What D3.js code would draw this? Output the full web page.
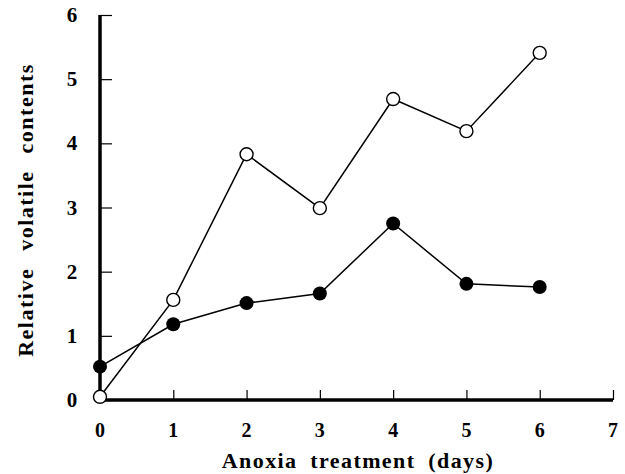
<!DOCTYPE html>
<html>
<head>
<meta charset="utf-8">
<script src="https://cdn.jsdelivr.net/npm/d3@7"></script>
<style>
  body { margin: 0; background: #fff; }
  svg text { font-family: "Liberation Serif", "Times New Roman", serif; font-weight: bold; }
</style>
</head>
<body>
<script>
// days of anoxia
var days = [0, 1, 2, 3, 4, 5, 6];
// open circles
var openVals = [0.05, 1.56, 3.83, 2.99, 4.69, 4.19, 5.41];
// filled circles
var filledVals = [0.52, 1.18, 1.51, 1.66, 2.75, 1.81, 1.76];
var xTicks = [0, 1, 2, 3, 4, 5, 6, 7];
var yTicks = [0, 1, 2, 3, 4, 5, 6];

var W = 625, H = 474;
var m = {left: 100, right: 12, top: 15, bottom: 74};

var svg = d3.select("body").append("svg")
    .attr("width", W).attr("height", H);

var x = d3.scaleLinear().domain([0, 7]).range([m.left, W - m.right]);
var y = d3.scaleLinear().domain([0, 6]).range([H - m.bottom, m.top]);

// axes ground
var axg = svg.append("g").attr("id", "axes");

var xAxis = axg.append("g")
    .attr("transform", "translate(0," + y(0) + ")")
    .call(d3.axisTop(x).tickValues(xTicks).tickSize(10).tickFormat(""));
xAxis.select(".domain").attr("stroke-width", 3.5).attr("d", "M" + x(0) + ",0H" + x(7));
xAxis.selectAll(".tick line").attr("stroke-width", 1.2);

var yAxis = axg.append("g")
    .attr("transform", "translate(" + x(0) + ",0)")
    .call(d3.axisRight(y).tickValues(yTicks).tickSize(12).tickFormat(""));
yAxis.select(".domain").attr("stroke-width", 3.5).attr("d", "M0," + y(6) + "V" + y(0));
yAxis.selectAll(".tick line").attr("stroke-width", 1.2);

// tick labels
axg.selectAll(".xl").data(xTicks).enter().append("text")
    .attr("class", "xl")
    .attr("x", function(d) { return x(d); })
    .attr("y", y(0) + 37)
    .attr("text-anchor", "middle")
    .style("font-size", "20px")
    .text(function(d) { return d; });

axg.selectAll(".yl").data(yTicks).enter().append("text")
    .attr("class", "yl")
    .attr("x", 72)
    .attr("y", function(d) { return y(d) + 7; })
    .attr("text-anchor", "middle")
    .style("font-size", "21px")
    .text(function(d) { return d; });

// axis titles
axg.append("text")
    .attr("x", 358).attr("y", 468)
    .attr("text-anchor", "middle")
    .style("font-size", "22px")
    .style("letter-spacing", "1.4px")
    .style("word-spacing", "6px")
    .text("Anoxia treatment (days)");

axg.append("text")
    .attr("transform", "translate(33," + 210 + ") rotate(-90)")
    .attr("text-anchor", "middle")
    .style("font-size", "22px")
    .style("letter-spacing", "1.5px")
    .style("word-spacing", "10px")
    .text("Relative volatile contents");

// data ground
var dg = svg.append("g").attr("id", "data");
var line = d3.line()
    .x(function(d) { return x(d[0]); })
    .y(function(d) { return y(d[1]); });

var openPts = d3.zip(days, openVals);
var filledPts = d3.zip(days, filledVals);

dg.append("path").datum(openPts)
    .attr("d", line).attr("fill", "none")
    .attr("stroke", "#000").attr("stroke-width", 1.5);
dg.append("path").datum(filledPts)
    .attr("d", line).attr("fill", "none")
    .attr("stroke", "#000").attr("stroke-width", 1.5);

dg.selectAll(".op").data(openPts).enter().append("circle")
    .attr("class", "op")
    .attr("cx", function(d) { return x(d[0]); })
    .attr("cy", function(d) { return y(d[1]); })
    .attr("r", 6.5)
    .attr("fill", "#fff").attr("stroke", "#000").attr("stroke-width", 1.4);

dg.selectAll(".fp").data(filledPts).enter().append("circle")
    .attr("class", "fp")
    .attr("cx", function(d) { return x(d[0]); })
    .attr("cy", function(d) { return y(d[1]); })
    .attr("r", 7)
    .attr("fill", "#000");
</script>
</body>
</html>
